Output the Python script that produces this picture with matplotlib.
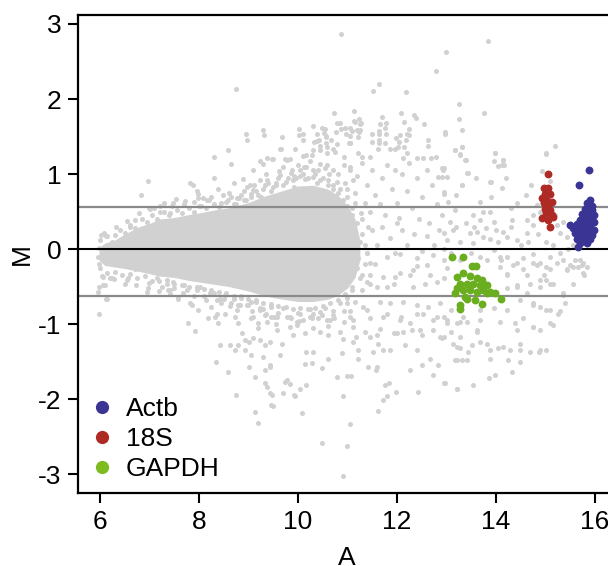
import numpy as np
import matplotlib
matplotlib.use("Agg")
from matplotlib import pyplot as plt
from matplotlib.lines import Line2D

plt.rcParams['font.family'] = ['Liberation Sans', 'DejaVu Sans']
plt.rcParams['axes.unicode_minus'] = False

# dense core of the MA cloud: envelope
core_A = [5.98, 6.1, 6.3, 6.5, 6.8, 7.0, 7.2, 7.5, 7.8, 8.0, 8.3, 8.6, 9.0, 9.3, 9.6, 10.0,
          10.3, 10.6, 10.8, 11.0, 11.15, 11.25]
core_hi = [0.02, 0.08, 0.12, 0.20, 0.30, 0.34, 0.40, 0.42, 0.46, 0.48, 0.52, 0.55, 0.62, 0.70,
           0.76, 0.84, 0.85, 0.80, 0.72, 0.58, 0.40, 0.12]
core_lo = [-0.15, -0.22, -0.24, -0.26, -0.30, -0.33, -0.36, -0.38, -0.42, -0.44, -0.47, -0.50,
           -0.56, -0.62, -0.66, -0.70, -0.70, -0.67, -0.62, -0.52, -0.38, -0.15]

# grey points hugging the edge of the dense core
grey_edge = [
    (6.00, 0.12), (6.15, 0.18), (6.25, 0.10), (6.40, 0.26), (6.50, 0.22), (6.60, 0.32), (6.70, 0.28),
    (6.85, 0.40), (6.95, 0.36), (7.05, 0.46), (7.15, 0.40), (7.30, 0.50), (7.40, 0.45), (7.55, 0.52),
    (7.65, 0.48), (7.80, 0.55), (7.90, 0.50), (8.00, 0.58), (8.15, 0.55), (8.30, 0.60), (8.40, 0.56),
    (8.55, 0.63), (8.70, 0.60), (8.80, 0.68), (8.95, 0.65), (9.05, 0.74), (9.20, 0.72), (9.30, 0.80),
    (9.45, 0.78), (9.55, 0.88), (9.70, 0.85), (9.80, 0.95), (9.90, 0.92), (10.05, 0.98), (10.15, 0.93),
    (10.30, 0.96), (10.45, 0.92), (10.60, 0.86), (10.70, 0.80), (10.80, 0.75), (10.90, 0.65),
    (11.00, 0.58), (11.10, 0.45), (11.20, 0.35), (11.30, 0.20), (11.35, 0.05),
    (6.00, -0.25), (6.15, -0.32), (6.30, -0.30), (6.45, -0.34), (6.60, -0.33), (6.75, -0.38),
    (6.90, -0.36), (7.05, -0.42), (7.20, -0.43), (7.35, -0.46), (7.50, -0.47), (7.65, -0.48),
    (7.80, -0.50), (7.95, -0.51), (8.10, -0.53), (8.25, -0.55), (8.40, -0.57), (8.55, -0.58),
    (8.70, -0.62), (8.85, -0.63), (9.00, -0.66), (9.15, -0.68), (9.30, -0.72), (9.45, -0.73),
    (9.60, -0.76), (9.75, -0.77), (9.90, -0.80), (10.05, -0.79), (10.20, -0.80), (10.35, -0.78),
    (10.50, -0.76), (10.65, -0.72), (10.80, -0.68), (10.95, -0.60), (11.10, -0.50), (11.25, -0.38),
    (11.35, -0.20), (11.40, -0.05), (5.95, -0.10), (5.97, 0.02), (5.98, -0.20),
    (6.20, 0.02), (6.35, -0.12), (6.55, 0.10), (11.10, 0.10), (11.20, -0.10), (11.05, -0.30),
    (6.08, 0.22), (6.32, 0.30), (6.55, 0.38), (6.78, 0.48), (7.00, 0.55), (7.22, 0.58), (7.48, 0.62),
    (7.72, 0.64), (7.98, 0.68), (8.20, 0.66), (8.48, 0.72), (8.65, 0.70), (8.90, 0.78), (9.12, 0.86),
    (9.38, 0.92), (9.62, 1.04), (9.88, 1.06), (10.12, 1.10), (10.40, 1.06), (10.62, 1.00),
    (10.78, 0.90), (10.98, 0.80), (11.15, 0.62), (11.28, 0.48), (11.42, 0.30),
    (6.05, -0.36), (6.28, -0.40), (6.50, -0.46), (6.72, -0.48), (6.98, -0.52), (7.20, -0.56),
    (7.42, -0.60), (7.68, -0.58), (7.90, -0.62), (8.15, -0.68), (8.42, -0.66), (8.62, -0.76),
    (8.82, -0.74), (9.08, -0.82), (9.35, -0.86), (9.52, -0.90), (9.78, -0.90), (10.02, -0.96),
    (10.28, -0.92), (10.48, -0.88), (10.72, -0.92), (10.92, -0.82), (11.15, -0.70), (11.30, -0.55),
    (11.45, -0.35),
]

# scattered grey points (A, M), upper part
grey_top = [
    (10.86, 2.86), (13.83, 2.77), (12.98, 2.63), (12.78, 2.37), (8.74, 2.13), (11.63, 2.20),
    (11.52, 2.11), (12.18, 2.09), (13.25, 1.94), (13.75, 1.81), (13.25, 1.74), (13.31, 1.59),
    (12.96, 1.56), (10.72, 1.81), (11.14, 1.84), (11.70, 1.76), (12.08, 1.81), (12.34, 1.79),
    (12.39, 1.75), (12.15, 1.70), (12.55, 1.67), (10.78, 1.68), (11.25, 1.67), (11.78, 1.68),
    (8.96, 1.46), (9.32, 1.52), (9.67, 1.50), (10.02, 1.52), (10.11, 1.46), (10.38, 1.44),
    (10.52, 1.55), (10.76, 1.56), (10.86, 1.60), (10.96, 1.54), (11.09, 1.58), (11.19, 1.59),
    (11.26, 1.59), (11.04, 1.42), (11.21, 1.49), (11.64, 1.58), (11.77, 1.53), (11.64, 1.46),
    (11.49, 1.43), (12.04, 1.43), (12.18, 1.46), (12.25, 1.52), (12.62, 1.37), (12.97, 1.54),
    (10.56, 1.51), (10.57, 1.41), (10.66, 1.45), (11.13, 1.71), (10.03, 1.60), (10.11, 1.54),
    (10.31, 1.64), (10.48, 1.62), (10.55, 1.60), (10.38, 1.54), (10.85, 1.68), (10.95, 1.62),
    (11.05, 1.62), (11.15, 1.69), (11.27, 1.68), (11.24, 1.74), (11.05, 1.51), (11.24, 1.56),
    (11.49, 1.53), (11.64, 1.54), (11.76, 1.62), (11.66, 1.67), (11.98, 1.48), (12.06, 1.52),
    (12.20, 1.54), (12.25, 1.60), (12.62, 1.46), (13.17, 1.32), (13.31, 1.36), (9.65, 1.34),
    (9.94, 1.34), (9.84, 1.20), (9.74, 1.20), (9.49, 1.20), (10.11, 1.24), (10.28, 1.25),
    (10.32, 1.43), (10.43, 1.45), (10.57, 1.50), (10.44, 1.32), (10.58, 1.36), (10.78, 1.40),
    (10.71, 1.34), (11.05, 1.41), (11.22, 1.28), (11.29, 1.23), (11.45, 1.23), (11.64, 1.42),
    (11.62, 1.34), (11.76, 1.42), (11.86, 1.33), (11.96, 1.34), (12.03, 1.36), (12.15, 1.36),
    (12.21, 1.28), (12.13, 1.21), (12.40, 1.22), (12.53, 1.22), (12.68, 1.22), (12.79, 1.23),
    (12.90, 1.08), (12.83, 0.96), (13.41, 1.01), (13.31, 0.85), (13.19, 0.72), (12.94, 0.76),
    (15.20, 1.38), (15.02, 1.27), (13.32, 1.36), (13.18, 1.32), (13.27, 1.26), (13.39, 1.19),
    (13.98, 1.28), (13.95, 1.18), (14.15, 1.19), (14.04, 1.11), (14.16, 1.12), (12.92, 1.06),
    (12.90, 0.96), (13.43, 1.02), (13.90, 0.89), (14.13, 0.81), (14.92, 1.04), (15.10, 0.91),
    (6.98, 0.91), (6.82, 0.72), (7.82, 0.88), (7.87, 0.85), (7.95, 0.77), (7.99, 0.74),
    (7.53, 0.67), (8.09, 0.68), (8.16, 0.65), (8.30, 1.23), (8.59, 1.32), (8.64, 1.14),
    (8.38, 0.80), (8.59, 0.65), (8.76, 0.68), (8.90, 0.65), (8.88, 0.94), (8.96, 0.83),
    (9.03, 0.85), (9.23, 1.17), (9.30, 1.14), (9.38, 1.21), (9.48, 1.20), (9.64, 1.34),
    (9.77, 1.19), (8.95, 1.54), (9.30, 1.59), (9.64, 0.99), (9.91, 0.97), (10.04, 1.05),
    (10.17, 1.10), (10.31, 1.05), (10.17, 1.25), (10.31, 1.32), (10.44, 1.37), (10.58, 1.28),
    (10.75, 1.30), (10.92, 1.23), (11.05, 1.41), (10.44, 1.14), (10.58, 1.12), (10.71, 1.05),
    (10.92, 1.12), (11.05, 1.05), (11.12, 0.92), (9.23, 0.92), (9.33, 0.85), (9.50, 0.83),
    (9.10, 0.79), (9.91, 0.83), (10.38, 0.88), (6.71, 0.39), (6.61, 0.30), (7.01, 0.54),
    (7.21, 0.50), (7.41, 0.48), (6.03, 0.19), (6.13, 0.17), (6.30, 0.19),
    (7.10, 0.55), (7.30, 0.62), (7.45, 0.58), (7.70, 0.60), (7.90, 0.63), (8.05, 0.58),
    (8.25, 0.70), (8.45, 0.62), (8.60, 0.75), (8.75, 0.60), (8.85, 0.72), (9.05, 0.70),
    (9.15, 0.78), (9.25, 0.70), (9.40, 0.88), (9.55, 0.85), (9.60, 0.95), (9.75, 0.90),
    (9.85, 1.02), (9.95, 0.95), (10.10, 1.00), (10.20, 0.95), (10.35, 1.00), (10.50, 0.95),
    (10.60, 0.92), (10.70, 0.85), (10.85, 0.80), (10.95, 0.88), (11.00, 0.70), (8.30, 0.95),
    (8.70, 0.88), (9.10, 1.05), (9.35, 1.00), (9.70, 1.10), (10.00, 1.12), (10.25, 1.18),
    (10.55, 1.08), (10.80, 1.00),
]

# scattered grey points, middle right part
grey_mid = [
    (13.27, 1.27), (13.98, 1.28), (13.37, 1.19), (14.13, 1.12), (14.15, 1.19), (15.02, 1.28),
    (12.94, 1.08), (13.00, 0.96), (13.88, 0.89), (13.31, 0.85), (14.42, 0.61), (13.68, 0.63),
    (13.17, 0.52), (12.94, 0.74), (13.04, 0.63), (13.74, 0.50), (13.88, 0.50), (13.54, 0.45),
    (13.68, 0.39), (13.95, 0.36), (14.32, 0.39), (14.62, 0.39), (14.75, 0.45), (14.89, 0.50),
    (14.92, 0.63), (14.82, 0.59), (13.07, 0.36), (13.14, 0.25), (12.94, 0.21), (13.00, 0.12),
    (13.27, 0.10), (13.47, 0.21), (13.61, 0.23), (13.74, 0.16), (13.54, 0.08), (13.88, 0.14),
    (14.01, 0.25), (14.15, 0.23), (14.22, 0.16), (14.42, 0.12), (14.62, 0.21), (14.75, 0.32),
    (15.23, 0.32), (15.36, 0.36), (15.43, 0.16), (15.29, 0.21), (15.56, 0.05), (13.95, -0.01),
    (14.22, -0.10), (14.75, -0.06), (14.89, -0.19), (15.09, -0.10), (15.36, -0.15), (15.49, -0.21),
    (14.42, -0.19), (13.68, -0.10), (13.27, -0.15), (15.60, -0.15), (15.70, -0.15), (15.66, -0.24),
    (15.83, -0.24), (15.76, -0.32),
    (11.05, 1.10), (11.20, 0.98), (11.30, 1.15), (11.40, 0.85), (11.15, 0.75), (11.35, 0.62),
    (11.50, 1.05), (11.55, 0.72), (11.10, 0.55), (11.45, 0.50), (11.70, 0.95), (11.80, 1.12),
    (11.90, 0.80), (12.00, 0.62), (12.10, 1.00), (12.20, 0.78), (12.30, 0.55), (12.40, 0.95),
    (12.50, 0.70), (11.75, 0.45), (12.05, 0.42), (12.45, 0.40), (11.65, 0.60), (12.25, 1.15),
    (11.95, 1.05), (12.60, 1.05), (12.70, 0.85), (12.80, 0.60), (12.65, 0.35), (12.90, 0.45),
    (11.10, 0.30), (11.25, 0.10), (11.40, -0.05), (11.50, 0.25), (11.60, 0.05), (11.70, 0.30),
    (11.85, 0.15), (11.95, -0.05), (12.10, 0.25), (12.20, 0.05), (12.35, 0.20), (12.50, -0.02),
    (12.60, 0.18), (12.75, 0.05), (12.85, 0.25), (11.30, 0.40), (11.55, -0.20), (11.20, -0.25),
    (12.00, 0.35), (12.40, -0.22),
    (12.95, 0.00), (13.10, -0.05), (13.20, 0.30), (13.40, 0.35), (13.55, 0.30), (13.80, 0.28),
    (14.05, 0.10), (14.30, 0.30), (14.50, 0.05), (14.65, 0.10), (14.85, 0.20), (15.00, 0.10),
    (15.15, 0.05), (15.30, -0.05), (15.45, 0.00), (14.10, -0.15), (13.50, -0.05), (13.00, -0.25),
    (14.55, -0.12), (15.20, 0.45), (14.30, 0.55), (13.90, 0.70), (14.60, 0.72), (14.20, 0.95),
    (13.60, 0.95), (14.70, 0.85),
]

# scattered grey points, lower part
grey_low = [
    (5.99, -0.87), (5.97, -0.50), (6.07, -0.48), (6.14, -0.66), (6.07, -0.37), (6.24, -0.39),
    (6.61, -0.24), (6.71, -0.26), (6.54, -0.41), (6.94, -0.57), (7.15, -0.39), (7.35, -0.41),
    (7.48, -0.44), (7.41, -0.55), (7.58, -0.66), (7.75, -0.54), (7.82, -0.72), (7.78, -0.98),
    (8.02, -0.50), (8.22, -0.59), (8.36, -0.68), (8.53, -0.61), (8.71, -0.66), (8.36, -0.86),
    (8.76, -0.81), (8.96, -0.75), (9.10, -0.90), (9.23, -0.81), (9.37, -0.97), (9.57, -0.90),
    (9.84, -1.04), (9.97, -0.97), (10.04, -0.86), (10.24, -0.90), (10.44, -0.84), (10.58, -0.95),
    (10.71, -0.88), (10.92, -0.97), (11.05, -0.90), (11.12, -1.04), (6.10, -0.48), (6.13, -0.66),
    (6.20, -0.39), (5.96, -0.57), (6.57, -0.39), (7.37, -0.55), (7.58, -0.64), (7.85, -0.75),
    (7.91, -1.09), (8.18, -0.92), (8.32, -0.90), (8.35, -1.50), (8.59, -1.64), (8.42, -1.28),
    (8.62, -1.28), (8.72, -1.35), (8.79, -1.28), (8.75, -1.95), (9.19, -2.32), (9.13, -2.17),
    (8.92, -1.21), (9.02, -1.24), (9.09, -1.19), (9.23, -1.21), (9.33, -1.28), (9.43, -1.24),
    (8.92, -1.35), (9.06, -1.41), (9.02, -1.57), (9.13, -1.70), (9.33, -1.61), (9.43, -1.57),
    (9.33, -1.79), (9.43, -1.92), (9.46, -2.08), (9.29, -1.44), (8.79, -0.99), (8.86, -1.12),
    (8.38, -0.99), (8.52, -0.86), (8.72, -0.90), (9.06, -0.92), (9.19, -0.99), (9.33, -0.88),
    (9.46, -0.90), (8.79, -0.75), (9.06, -0.70), (9.23, -0.79), (9.46, -0.77), (8.45, -0.72),
    (8.25, -0.77), (7.98, -0.81), (9.37, -1.84), (9.47, -1.95), (9.50, -2.09), (9.70, -1.92),
    (9.91, -1.95), (9.84, -1.80), (9.74, -1.77), (9.67, -1.26), (9.64, -1.41), (9.43, -1.55),
    (9.77, -1.75), (9.94, -1.96), (10.04, -1.86), (10.17, -1.81), (10.09, -2.19), (10.48, -2.59),
    (11.05, -2.33), (10.90, -1.96), (11.62, -2.16), (11.72, -2.01), (11.79, -1.96), (10.14, -1.53),
    (10.28, -1.52), (10.61, -1.46), (10.48, -1.58), (10.78, -1.70), (10.98, -1.69), (11.08, -1.69),
    (11.22, -1.47), (11.42, -1.57), (11.59, -1.57), (11.58, -1.61), (11.76, -1.81), (11.83, -1.79),
    (11.98, -1.90), (12.43, -1.90), (12.26, -1.61), (12.50, -1.55), (12.73, -1.68), (12.94, -1.79),
    (13.21, -1.86), (10.17, -1.37), (10.31, -1.37), (10.88, -1.38), (11.22, -1.35), (11.52, -1.37),
    (11.62, -1.27), (11.72, -1.34), (11.86, -1.35), (12.16, -1.28), (12.40, -1.34), (12.67, -1.47),
    (12.83, -1.55), (13.17, -1.48), (13.31, -1.48), (13.44, -1.37), (9.57, -1.08), (9.97, -1.01),
    (10.14, -1.12), (10.44, -1.10), (10.61, -1.15), (10.85, -1.10), (11.12, -1.24), (11.35, -1.10),
    (11.45, -1.17), (11.66, -1.06), (11.93, -1.12), (12.13, -1.10), (12.30, -1.08), (12.50, -1.15),
    (12.73, -1.08), (12.90, -1.19), (13.10, -1.10), (13.27, -1.17), (9.84, -0.90), (10.31, -0.86),
    (10.65, -0.95), (11.12, -0.95), (11.45, -0.92), (11.79, -0.86), (12.09, -0.90), (12.26, -0.99),
    (12.53, -0.86), (12.80, -0.90), (13.00, -0.99), (13.34, -0.90), (11.00, -0.72), (11.32, -0.77),
    (11.66, -0.70), (11.86, -0.72), (12.13, -0.70), (12.40, -0.75), (12.63, -0.77), (12.87, -0.72),
    (13.10, -0.81), (10.78, -0.37), (11.05, -0.41), (11.29, -0.35), (11.45, -0.46), (11.79, -0.50),
    (11.96, -0.37), (12.26, -0.35), (12.33, -0.50), (12.57, -0.46), (12.94, -0.39),
    (14.08, -0.24), (14.22, -0.33), (14.55, -0.26), (14.82, -0.21), (14.96, -0.35), (15.02, -0.41),
    (15.09, -0.26), (15.23, -0.19), (15.43, -0.28), (15.56, -0.24), (15.73, -0.21), (15.77, -0.35),
    (14.69, -0.46), (14.89, -0.50), (15.09, -0.46), (14.22, -0.52), (14.42, -0.48), (14.62, -0.59),
    (15.36, -0.59), (15.39, -0.72), (15.09, -0.81), (14.89, -0.77), (14.75, -0.75), (14.48, -0.68),
    (13.68, -0.81), (13.95, -0.79), (14.22, -0.81), (14.38, -0.99), (14.55, -0.92), (14.75, -1.04),
    (14.89, -1.08), (15.16, -1.01), (15.26, -0.86), (13.21, -0.99), (13.41, -0.97), (13.61, -1.08),
    (13.00, -0.95), (12.94, -1.17), (13.14, -1.26), (13.27, -1.32), (13.51, -1.28), (13.68, -1.24),
    (13.88, -1.35), (14.05, -1.32), (14.28, -1.35), (14.48, -1.26), (14.69, -1.37), (14.86, -1.37),
    (15.00, -1.35), (13.21, -1.48), (13.41, -1.48), (13.88, -1.46), (14.25, -1.48), (14.48, -1.50),
    (14.32, -1.64), (13.98, -1.68), (13.85, -1.72), (13.54, -1.81), (13.21, -1.86), (12.97, -1.79),
    (11.22, -0.12), (11.45, -0.19), (11.79, -0.10), (12.06, -0.06), (12.40, -0.12), (12.60, -0.21),
    (12.73, -0.08), (12.94, -0.15), (12.33, -0.28), (12.67, -0.35), (12.80, -0.44), (11.72, -0.37),
    (11.93, -0.46), (12.06, -0.32), (11.39, -0.44), (11.59, -0.50), (13.81, -0.15), (14.08, -0.10),
    (14.35, -0.21), (14.75, -0.19), (15.02, -0.24), (15.43, -0.26), (15.56, -0.46), (15.36, -0.61),
    (15.02, -0.81), (14.75, -0.72), (14.42, -0.50), (14.22, -0.35), (14.62, -0.35), (14.89, -0.41),
    (15.76, -0.19), (15.16, -0.46), (11.05, -0.83), (11.39, -0.81), (11.72, -0.90), (12.06, -0.95),
    (12.40, -0.86), (12.73, -0.95), (12.94, -0.90), (13.27, -0.97), (13.68, -0.95), (14.08, -0.97),
    (14.42, -1.08), (14.75, -1.04), (15.09, -0.99), (15.29, -0.83), (11.18, -1.17), (11.59, -1.15),
    (11.99, -1.12), (12.46, -1.08), (12.87, -1.17), (13.21, -1.30), (13.61, -1.10), (13.81, -1.26),
    (14.15, -1.30), (14.48, -1.35), (14.89, -1.35),
    (7.00, -0.45), (7.25, -0.50), (7.50, -0.52), (7.70, -0.48), (7.95, -0.55), (8.10, -0.62),
    (8.30, -0.58), (8.50, -0.66), (8.65, -0.72), (8.85, -0.65), (9.00, -0.75), (9.15, -0.70),
    (9.30, -0.80), (9.45, -0.76), (9.60, -0.85), (9.70, -0.78), (9.85, -0.92), (10.00, -0.85),
    (10.10, -0.95), (10.25, -0.80), (10.40, -0.92), (10.55, -0.78), (10.70, -0.82), (10.85, -0.72),
    (11.00, -0.65), (11.10, -0.55), (10.30, -1.05), (10.60, -1.02), (9.55, -1.00), (9.90, -1.15),
    (10.90, -1.20), (9.20, -1.05), (10.90, -3.02), (10.98, -2.62),
]

actb_A = [15.87, 15.68, 15.83, 15.90, 15.80, 15.93, 15.87, 15.97, 15.76, 15.90, 15.70, 15.83, 15.97,
          15.63, 15.76, 15.90, 15.56, 15.70, 15.83, 15.97, 15.50, 15.66, 15.80, 15.93, 15.63, 15.76,
          15.90, 15.70, 15.83, 15.66, 15.86, 15.73, 15.93, 15.79, 15.60]
actb_M = [1.05, 0.85, 0.61, 0.66, 0.54, 0.52, 0.48, 0.45, 0.43, 0.41, 0.39, 0.36, 0.36,
          0.34, 0.32, 0.30, 0.28, 0.25, 0.25, 0.25, 0.32, 0.19, 0.19, 0.19, 0.14, 0.12,
          0.14, 0.08, 0.08, 0.03, 0.28, 0.47, 0.57, 0.16, 0.22]

s18_A = [15.06, 14.96, 15.06, 14.99, 15.09, 14.92, 15.02, 15.13, 14.96, 15.06, 14.99, 15.09, 15.02,
         15.13, 14.92, 15.06, 15.16, 15.09, 15.01]
s18_M = [1.00, 0.81, 0.81, 0.74, 0.74, 0.68, 0.65, 0.63, 0.61, 0.59, 0.54, 0.52, 0.48,
         0.45, 0.41, 0.39, 0.43, 0.30, 0.70]

gapdh_A = [13.12, 13.33, 13.52, 13.59, 13.22, 13.34, 13.47, 13.61, 13.71, 13.81, 13.27, 13.41, 13.54,
           13.68, 13.21, 13.34, 13.47, 13.61, 13.74, 13.88, 13.98, 14.11, 13.17, 13.37, 13.58, 13.71,
           13.27, 13.27, 13.41, 13.81]
gapdh_M = [-0.11, -0.11, -0.23, -0.23, -0.37, -0.32, -0.36, -0.39, -0.41, -0.48, -0.46, -0.46, -0.46,
           -0.48, -0.52, -0.55, -0.55, -0.57, -0.55, -0.57, -0.59, -0.66, -0.59, -0.64, -0.68, -0.73,
           -0.75, -0.80, -0.66, -0.59]

cutoff_hi = 0.56
cutoff_lo = -0.63

GREY = '#d1d1d1'
COL_ACTB = '#3a3494'
COL_18S = '#ae2a24'
COL_GAPDH = '#6aae1f'

fig = plt.figure(figsize=(6.08, 5.66), dpi=100)
ax = fig.add_axes([0.1283, 0.1290, 0.8829, 0.8445])

ax.fill_between(core_A, core_lo, core_hi, color=GREY, lw=0, zorder=1)
grey = np.array(grey_edge + grey_top + grey_mid + grey_low)
ax.scatter(grey[:, 0], grey[:, 1], s=13, c=GREY, lw=0, zorder=1)

ax.axhline(0, color='black', lw=1.5, zorder=2)
ax.axhline(cutoff_hi, color='#8a8a8a', lw=1.6, zorder=2)
ax.axhline(cutoff_lo, color='#8a8a8a', lw=1.6, zorder=2)

ax.scatter(actb_A, actb_M, s=32, c=COL_ACTB, lw=0, zorder=3)
ax.scatter(s18_A, s18_M, s=32, c=COL_18S, lw=0, zorder=3)
ax.scatter(gapdh_A, gapdh_M, s=32, c=COL_GAPDH, lw=0, zorder=3)

ax.set_xlim(5.556, 16.4)
ax.set_ylim(-3.253, 3.12)
ax.set_xticks([6, 8, 10, 12, 14, 16])
ax.set_yticks([-3, -2, -1, 0, 1, 2, 3])
ax.tick_params(direction='out', length=7, width=1.5, labelsize=19, pad=5)
ax.spines['right'].set_visible(False)
for side in ['left', 'bottom', 'top']:
    ax.spines[side].set_linewidth(1.6)
ax.set_xlabel('A', fontsize=19, labelpad=9)
ax.set_ylabel('M', fontsize=19, labelpad=3)

handles = [Line2D([], [], ls='', marker='o', ms=9.5, mec='none', mfc=c)
           for c in (COL_ACTB, COL_18S, '#7dbb1f')]
ax.legend(handles, ['Actb', '18S', 'GAPDH'], loc='lower left', frameon=False,
          fontsize=19, handletextpad=0.45, labelspacing=0.22, borderaxespad=0.05,
          handlelength=0.9, bbox_to_anchor=(0.0, 0.0))

fig.savefig('out.png', dpi=100)
